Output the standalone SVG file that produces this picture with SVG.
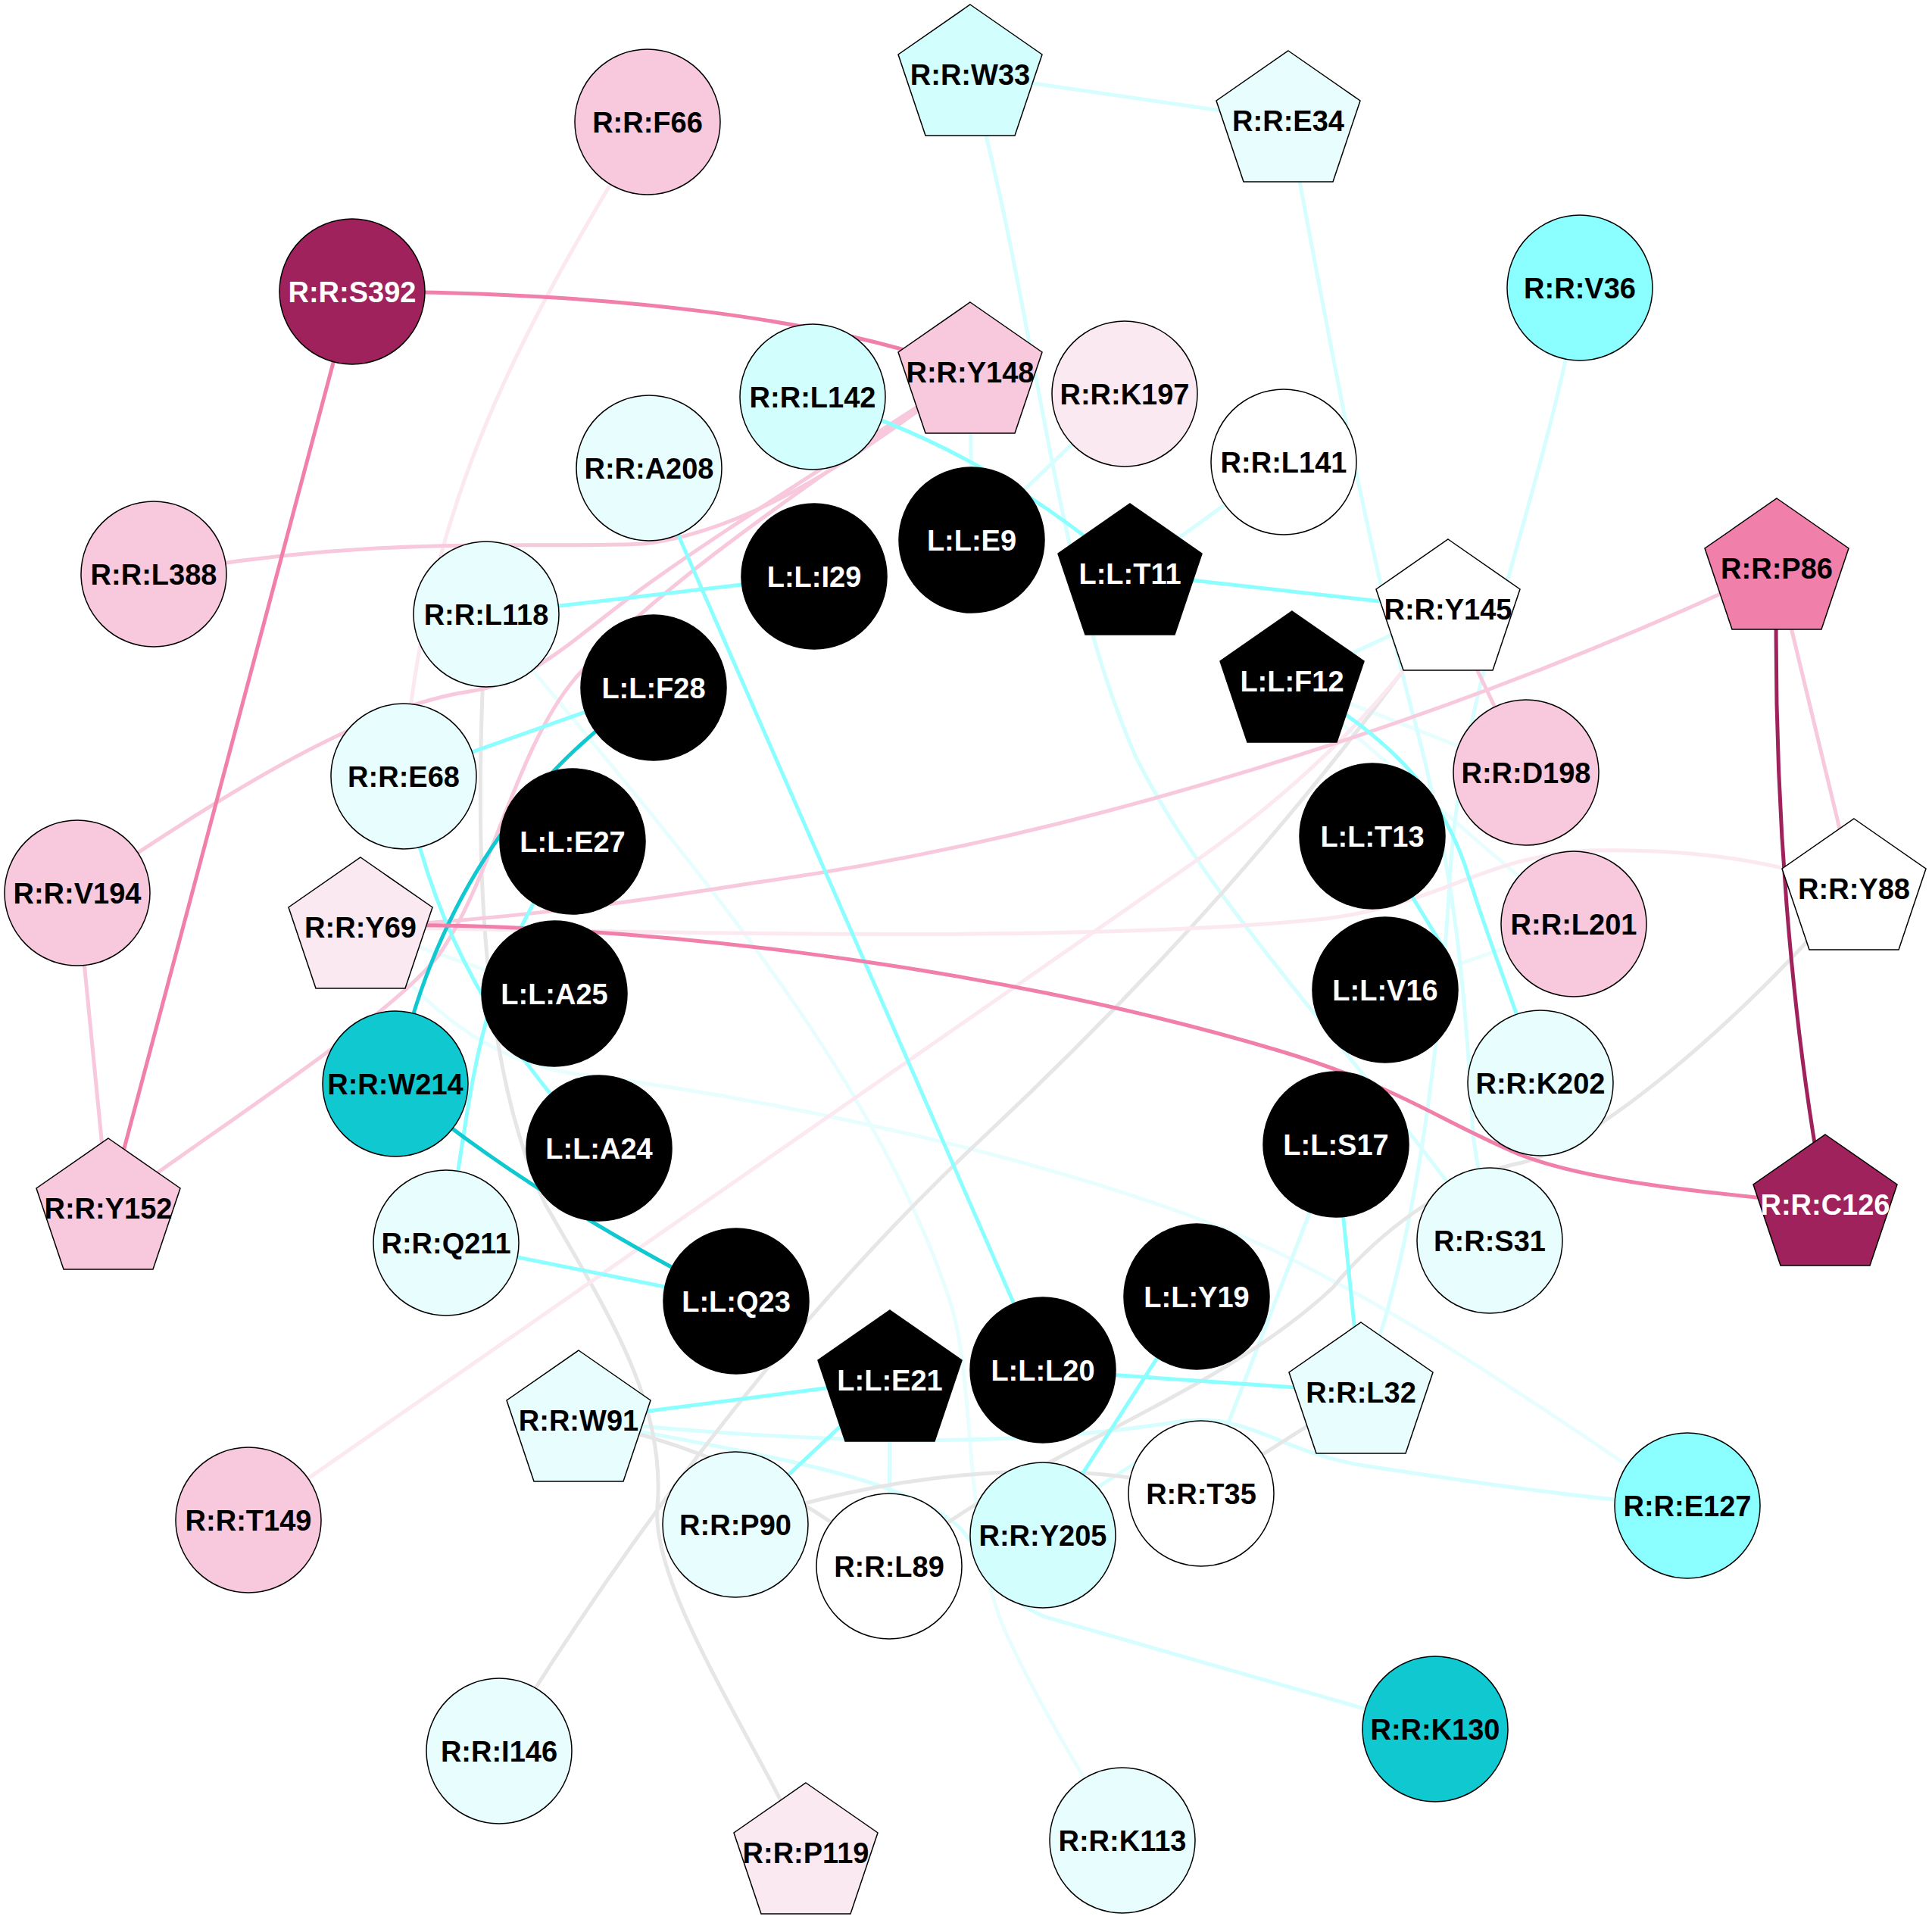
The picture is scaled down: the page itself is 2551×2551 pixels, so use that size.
<svg xmlns="http://www.w3.org/2000/svg" width="2551" height="2551" viewBox="0 0 2551 2551">
<defs>
<style>
.e{fill:none;stroke-width:5;stroke-linecap:round}
.ep{stroke:#f8c8dc}.el{stroke:#fbe8f0}.ed{stroke:#f07faa}.em{stroke:#a0225c}
.ec{stroke:#8bffff}.ecl{stroke:#d6fefe}.ecv{stroke:#e8fefe}.edc{stroke:#10c8d0}.eg{stroke:#e6e6e6}
.n{stroke:#000;stroke-width:1.5}
.pk{fill:#f8c8dc}.lp{fill:#fbe9f1}.dm{fill:#a0225c}.mp{fill:#f07faa}.cy{fill:#8bffff}
.lc{fill:#e8fefe}.lc2{fill:#d3fefe}.dc{fill:#10c8d0}.wh{fill:#fff}.bk{fill:#000}
.t{font-family:"Liberation Sans",Arial,sans-serif;font-weight:bold;font-size:38px;text-anchor:middle;fill:#000}
.tw{fill:#fff}
</style>
<polygon id="pent" points="0,-92 95,-26 59,81 -59,81 -95,-26"/>
</defs>
<rect width="2551" height="2551" fill="#fff"/>
<g id="connectors">
<!-- very light cyan -->
<path class="e ecv" d="M1706,899 L2015,1020"/>
<path class="e ecv" d="M1706,899 L2078,1220"/>
<path class="e ecv" d="M1829,1307 L2078,1220"/>
<path class="e ecv" d="M642,811 C880,1100 1150,1400 1255,1720 C1290,1830 1270,2030 1330,2160 Q1380,2268 1482,2430"/>
<path class="e ecv" d="M476,1224 C560,1330 640,1400 760,1418 C1100,1460 1500,1560 1700,1660 C1900,1760 2050,1870 2228,1988"/>
<path class="e ecv" d="M476,1224 L732,1312"/>
<!-- light cyan -->
<path class="e ecl" d="M1281,98 L1701,159"/>
<path class="e ecl" d="M1281,98 C1370,420 1390,750 1500,1000 C1600,1200 1800,1400 1967,1638"/>
<path class="e ecl" d="M1701,159 C1750,420 1800,700 1870,960 C1920,1150 1935,1300 1945,1500 L1967,1638"/>
<path class="e ecl" d="M2086,380 C2040,650 1930,900 1915,1150 C1905,1320 1880,1600 1810,1800 L1797,1838"/>
<path class="e ecl" d="M1283,713 L1485,520"/>
<path class="e ecl" d="M1281,491 L1283,713"/>
<path class="e ecl" d="M1492,757 L1695,610"/>
<path class="e ecl" d="M1706,899 L1912,804"/>
<path class="e ecl" d="M764,1875 C1100,1910 1350,1910 1550,1878 C1650,1862 1680,1915 1800,1935 C1950,1958 2100,1980 2228,1988"/>
<path class="e ecl" d="M764,1875 C1000,1920 1200,1950 1270,2020 C1310,2070 1320,2110 1380,2135 L1895,2283"/>
<path class="e ecl" d="M1175,1822 L1174,2068"/>
<path class="e ecl" d="M1764,1511 L1586,1972"/>
<path class="e ecl" d="M1400,1995 L1510,1925"/>
<!-- grey -->
<path class="e eg" d="M642,811 C625,1100 630,1400 720,1590 C800,1730 880,1850 868,1990 C860,2100 1000,2300 1064,2446"/>
<path class="e eg" d="M659,2312 L700,2240 Q980,1800 1300,1500 T1852,886"/>
<path class="e eg" d="M1174,2068 C1350,1920 1600,1850 1760,1700 C1830,1615 1930,1550 2010,1535 C2100,1515 2300,1350 2448,1173"/>
<path class="e eg" d="M971,2013 C1150,1950 1400,1915 1586,1972"/>
<path class="e eg" d="M764,1875 Q1000,1920 1174,2068"/>
<path class="e eg" d="M1586,1972 L1797,1838"/>
<!-- light pink -->
<path class="e el" d="M855,161 C700,420 560,650 533,1025"/>
<path class="e el" d="M476,1224 C900,1232 1450,1245 1750,1213 C1900,1195 1960,1130 2100,1123 C2250,1120 2350,1140 2448,1173"/>
<path class="e el" d="M328,2007 L1570,1143 Q1790,990 1912,804"/>
<!-- pink -->
<path class="e ep" d="M2346,750 L2448,1173"/>
<path class="e ep" d="M2346,750 C1900,960 1400,1110 1000,1165 C800,1197 650,1215 476,1224"/>
<path class="e ep" d="M102,1179 L143,1595"/>
<path class="e ep" d="M102,1179 C280,1060 470,935 620,913 C700,901 750,850 830,790 C950,700 1150,580 1281,491"/>
<path class="e ep" d="M143,1595 C300,1480 520,1340 580,1260 C650,1160 680,990 760,895 C880,760 1100,620 1281,491"/>
<path class="e ep" d="M203,758 C500,705 700,725 850,718 C1000,700 1150,590 1281,491"/>
<path class="e ep" d="M1912,804 L2015,1020"/>
<!-- cyan -->
<path class="e ec" d="M1073,524 Q1300,590 1492,757"/>
<path class="e ec" d="M642,811 L1075,761"/>
<path class="e ec" d="M857,618 L1377,1809"/>
<path class="e ec" d="M533,1025 L863,908"/>
<path class="e ec" d="M533,1025 Q580,1300 791,1516"/>
<path class="e ec" d="M589,1641 C625,1450 620,1300 756,1111"/>
<path class="e ec" d="M1492,757 L1912,804"/>
<path class="e ec" d="M1706,899 C1850,980 1910,1060 1940,1160 C1965,1240 1990,1300 2034,1430"/>
<path class="e ec" d="M1850,1160 L1905,1250"/>
<path class="e ec" d="M1764,1511 L1797,1838"/>
<path class="e ec" d="M1377,1809 L1797,1838"/>
<path class="e ec" d="M1580,1712 L1377,2027"/>
<path class="e ec" d="M1175,1822 L971,2013"/>
<path class="e ec" d="M1175,1822 L764,1875"/>
<path class="e ec" d="M589,1641 L972,1718"/>
<!-- dark cyan -->
<path class="e edc" d="M522,1431 C560,1250 650,1050 863,908"/>
<path class="e edc" d="M522,1431 Q700,1580 972,1718"/>
<!-- dark pink / magenta -->
<path class="e ed" d="M465,385 C800,385 1100,420 1281,491"/>
<path class="e ed" d="M465,385 L143,1595"/>
<path class="e ed" d="M476,1222 C800,1215 1300,1270 1691,1388 C1850,1436 1900,1480 2008,1525 C2100,1560 2250,1575 2410,1590"/>
<path class="e em" d="M2346,750 C2340,1050 2365,1350 2410,1590"/>
</g>
<g id="R-R-F66"><circle class="n pk" cx="855" cy="161" r="96"/><text class="t" x="855" y="175">R:R:F66</text></g>
<g id="R-R-S392"><circle class="n dm" cx="465" cy="385" r="96"/><text class="t tw" x="465" y="399">R:R:S392</text></g>
<g id="R-R-L142"><circle class="n lc2" cx="1073" cy="524" r="96"/><text class="t" x="1073" y="538">R:R:L142</text></g>
<g id="R-R-A208"><circle class="n lc" cx="857" cy="618" r="96"/><text class="t" x="857" y="632">R:R:A208</text></g>
<g id="R-R-L388"><circle class="n pk" cx="203" cy="758" r="96"/><text class="t" x="203" y="772">R:R:L388</text></g>
<g id="R-R-L118"><circle class="n lc" cx="642" cy="811" r="96"/><text class="t" x="642" y="825">R:R:L118</text></g>
<g id="L-L-I29"><circle class="n bk" cx="1075" cy="761" r="96"/><text class="t tw" x="1075" y="775">L:L:I29</text></g>
<g id="L-L-F28"><circle class="n bk" cx="863" cy="908" r="96"/><text class="t tw" x="863" y="922">L:L:F28</text></g>
<g id="R-R-E68"><circle class="n lc" cx="533" cy="1025" r="96"/><text class="t" x="533" y="1039">R:R:E68</text></g>
<g id="L-L-E27"><circle class="n bk" cx="756" cy="1111" r="96"/><text class="t tw" x="756" y="1125">L:L:E27</text></g>
<g id="R-R-V194"><circle class="n pk" cx="102" cy="1179" r="96"/><text class="t" x="102" y="1193">R:R:V194</text></g>
<g id="R-R-V36"><circle class="n cy" cx="2086" cy="380" r="96"/><text class="t" x="2086" y="394">R:R:V36</text></g>
<g id="R-R-K197"><circle class="n lp" cx="1485" cy="520" r="96"/><text class="t" x="1485" y="534">R:R:K197</text></g>
<g id="R-R-L141"><circle class="n wh" cx="1695" cy="610" r="96"/><text class="t" x="1695" y="624">R:R:L141</text></g>
<g id="L-L-E9"><circle class="n bk" cx="1283" cy="713" r="96"/><text class="t tw" x="1283" y="727">L:L:E9</text></g>
<g id="R-R-D198"><circle class="n pk" cx="2015" cy="1020" r="96"/><text class="t" x="2015" y="1034">R:R:D198</text></g>
<g id="L-L-T13"><circle class="n bk" cx="1812" cy="1104" r="96"/><text class="t tw" x="1812" y="1118">L:L:T13</text></g>
<g id="R-R-L201"><circle class="n pk" cx="2078" cy="1220" r="96"/><text class="t" x="2078" y="1234">R:R:L201</text></g>
<g id="L-L-A25"><circle class="n bk" cx="732" cy="1312" r="96"/><text class="t tw" x="732" y="1326">L:L:A25</text></g>
<g id="R-R-W214"><circle class="n dc" cx="522" cy="1431" r="96"/><text class="t" x="522" y="1445">R:R:W214</text></g>
<g id="L-L-A24"><circle class="n bk" cx="791" cy="1516" r="96"/><text class="t tw" x="791" y="1530">L:L:A24</text></g>
<g id="R-R-Q211"><circle class="n lc" cx="589" cy="1641" r="96"/><text class="t" x="589" y="1655">R:R:Q211</text></g>
<g id="L-L-Q23"><circle class="n bk" cx="972" cy="1718" r="96"/><text class="t tw" x="972" y="1732">L:L:Q23</text></g>
<g id="R-R-T149"><circle class="n pk" cx="328" cy="2007" r="96"/><text class="t" x="328" y="2021">R:R:T149</text></g>
<g id="R-R-P90"><circle class="n lc" cx="971" cy="2013" r="96"/><text class="t" x="971" y="2027">R:R:P90</text></g>
<g id="R-R-L89"><circle class="n wh" cx="1174" cy="2068" r="96"/><text class="t" x="1174" y="2082">R:R:L89</text></g>
<g id="R-R-I146"><circle class="n lc" cx="659" cy="2312" r="96"/><text class="t" x="659" y="2326">R:R:I146</text></g>
<g id="L-L-V16"><circle class="n bk" cx="1829" cy="1307" r="96"/><text class="t tw" x="1829" y="1321">L:L:V16</text></g>
<g id="R-R-K202"><circle class="n lc" cx="2034" cy="1430" r="96"/><text class="t" x="2034" y="1444">R:R:K202</text></g>
<g id="L-L-S17"><circle class="n bk" cx="1764" cy="1511" r="96"/><text class="t tw" x="1764" y="1525">L:L:S17</text></g>
<g id="R-R-S31"><circle class="n lc" cx="1967" cy="1638" r="96"/><text class="t" x="1967" y="1652">R:R:S31</text></g>
<g id="L-L-Y19"><circle class="n bk" cx="1580" cy="1712" r="96"/><text class="t tw" x="1580" y="1726">L:L:Y19</text></g>
<g id="L-L-L20"><circle class="n bk" cx="1377" cy="1809" r="96"/><text class="t tw" x="1377" y="1823">L:L:L20</text></g>
<g id="R-R-T35"><circle class="n wh" cx="1586" cy="1972" r="96"/><text class="t" x="1586" y="1986">R:R:T35</text></g>
<g id="R-R-Y205"><circle class="n lc2" cx="1377" cy="2027" r="96"/><text class="t" x="1377" y="2041">R:R:Y205</text></g>
<g id="R-R-E127"><circle class="n cy" cx="2228" cy="1988" r="96"/><text class="t" x="2228" y="2002">R:R:E127</text></g>
<g id="R-R-K130"><circle class="n dc" cx="1895" cy="2283" r="96"/><text class="t" x="1895" y="2297">R:R:K130</text></g>
<g id="R-R-K113"><circle class="n lc" cx="1482" cy="2430" r="96"/><text class="t" x="1482" y="2444">R:R:K113</text></g>
<g id="R-R-W33"><use href="#pent" class="n lc2" x="1281" y="98"/><text class="t" x="1281" y="112">R:R:W33</text></g>
<g id="R-R-E34"><use href="#pent" class="n lc" x="1701" y="159"/><text class="t" x="1701" y="173">R:R:E34</text></g>
<g id="R-R-Y148"><use href="#pent" class="n pk" x="1281" y="491"/><text class="t" x="1281" y="505">R:R:Y148</text></g>
<g id="L-L-T11"><use href="#pent" class="n bk" x="1492" y="757"/><text class="t tw" x="1492" y="771">L:L:T11</text></g>
<g id="R-R-Y145"><use href="#pent" class="n wh" x="1912" y="804"/><text class="t" x="1912" y="818">R:R:Y145</text></g>
<g id="R-R-P86"><use href="#pent" class="n mp" x="2346" y="750"/><text class="t" x="2346" y="764">R:R:P86</text></g>
<g id="L-L-F12"><use href="#pent" class="n bk" x="1706" y="899"/><text class="t tw" x="1706" y="913">L:L:F12</text></g>
<g id="R-R-Y88"><use href="#pent" class="n wh" x="2448" y="1173"/><text class="t" x="2448" y="1187">R:R:Y88</text></g>
<g id="R-R-Y69"><use href="#pent" class="n lp" x="476" y="1224"/><text class="t" x="476" y="1238">R:R:Y69</text></g>
<g id="R-R-Y152"><use href="#pent" class="n pk" x="143" y="1595"/><text class="t" x="143" y="1609">R:R:Y152</text></g>
<g id="L-L-E21"><use href="#pent" class="n bk" x="1175" y="1822"/><text class="t tw" x="1175" y="1836">L:L:E21</text></g>
<g id="R-R-W91"><use href="#pent" class="n lc" x="764" y="1875"/><text class="t" x="764" y="1889">R:R:W91</text></g>
<g id="R-R-L32"><use href="#pent" class="n lc" x="1797" y="1838"/><text class="t" x="1797" y="1852">R:R:L32</text></g>
<g id="R-R-P119"><use href="#pent" class="n lp" x="1064" y="2446"/><text class="t" x="1064" y="2460">R:R:P119</text></g>
<g id="R-R-C126"><use href="#pent" class="n dm" x="2410" y="1590"/><text class="t tw" x="2410" y="1604">R:R:C126</text></g>
</svg>
